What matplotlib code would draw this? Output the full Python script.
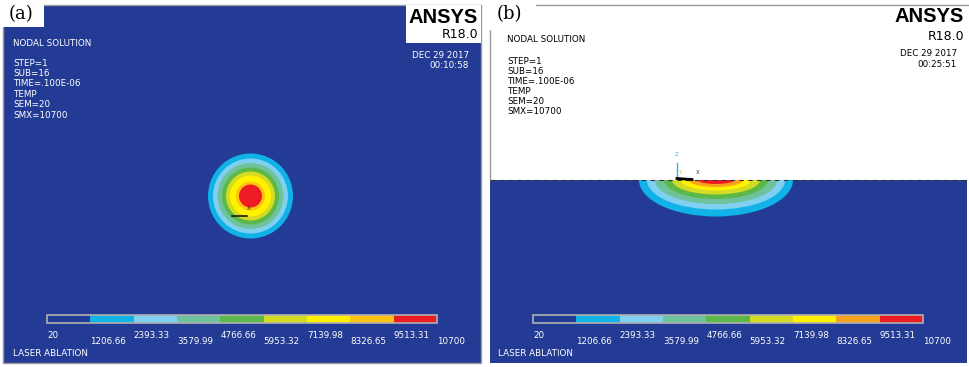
import matplotlib.pyplot as plt
from matplotlib.patches import Rectangle, Circle, Ellipse

# contour levels of the temperature legend
LEVELS = [20, 1206.66, 2393.33, 3579.99, 4766.66, 5953.32, 7139.98, 8326.65, 9513.31, 10700]
LEVEL_LABELS = ["20", "1206.66", "2393.33", "3579.99", "4766.66",
                "5953.32", "7139.98", "8326.65", "9513.31", "10700"]

BAND_COLORS = ["#233b95", "#10b2e8", "#80d0f0", "#6fc39c", "#5cb848",
               "#d3dc22", "#fff100", "#f7a21c", "#ed1c24"]
BAND_COLORS_A = BAND_COLORS[:7] + ["#ffc20e", BAND_COLORS[8]]

# (a) top view: radius (px) of the outer edge of bands 1..8
RADII_A = [42.5, 37.5, 33.0, 28.5, 24.5, 20.5, 14.5, 11.5]
# (b) cross section: half width and depth (px) of bands 1..8
HALF_W_B = [77, 69, 61, 52, 44, 35, 27, 18]
DEPTH_B = [36.5, 29.5, 24, 19, 14.5, 10.5, 7, 4]

INFO = ["STEP=1", "SUB=16", "TIME=.100E-06", "TEMP", "SEM=20", "SMX=10700"]
BLUE = BAND_COLORS[0]
GRAY = "#9a9a9a"
FS = 6.3


def colorbar(ax, x0, width, y0, colors):
    lo, hi = LEVELS[0], LEVELS[-1]
    xs = [x0 + (v - lo) / (hi - lo) * width for v in LEVELS]
    for i in range(9):
        ax.add_patch(Rectangle((xs[i], y0), xs[i + 1] - xs[i], 8, fc=colors[i],
                               ec="none", zorder=3))
    ax.add_patch(Rectangle((x0, y0), width, 8, fill=False, ec="#b0b0b0",
                           lw=1.2, zorder=4))
    for i, (x, s) in enumerate(zip(xs, LEVEL_LABELS)):
        y = y0 + 20 if i % 2 == 0 else y0 + 27
        ax.text(x, y, s, color="white", fontsize=FS, ha="left", va="center", zorder=5)


def header(ax, x_left, y_nodal, y_info, step, x_right, date, time, y_date, color):
    ax.text(x_left, y_nodal, "NODAL SOLUTION", color=color, fontsize=FS,
            va="center", zorder=5)
    for k, s in enumerate(INFO):
        ax.text(x_left, y_info + k * step, s, color=color, fontsize=FS,
                va="center", zorder=5)
    ax.text(x_right, y_date, date, color=color, fontsize=FS, ha="right",
            va="center", zorder=5)
    ax.text(x_right, y_date + 10.5, time, color=color, fontsize=FS, ha="right",
            va="center", zorder=5)


def logo(ax, x_right, y_ansys, y_rel):
    ax.text(x_right, y_ansys, "ANSYS", family=["Liberation Sans", "DejaVu Sans"],
            fontsize=14.5, weight="bold", ha="right", va="center", zorder=5)
    ax.text(x_right, y_rel, "R18.0", fontsize=9, ha="right", va="center", zorder=5)


fig = plt.figure(figsize=(9.69, 3.67), dpi=100)
ax = fig.add_axes([0, 0, 1, 1])
ax.set_xlim(0, 969)
ax.set_ylim(367, 0)
ax.axis("off")

# ---- (a) top view of the spot
ax.add_patch(Rectangle((3, 5), 478, 358, fc=BLUE, ec=GRAY, lw=1, zorder=1))
cx, cy = 250.5, 196
for r, c in zip(RADII_A, BAND_COLORS_A[1:]):
    ax.add_patch(Circle((cx, cy), r, fc=c, ec="none", zorder=2))
ax.plot([232, 247], [216, 216], color="#1a1a1a", lw=1.2, zorder=3)
ax.text(232, 209, "Y", color="#c8d020", fontsize=4, ha="center", va="center", zorder=3)
ax.text(249, 209, "X", color="#303030", fontsize=4, ha="center", va="center", zorder=3)

ax.add_patch(Rectangle((0, 0), 44, 27, fc="white", ec="none", zorder=4))
ax.text(9, 14, "(a)", family="DejaVu Serif", fontsize=13, va="center", zorder=5)
ax.add_patch(Rectangle((406, 5), 75, 38, fc="white", ec="none", zorder=4))
logo(ax, 478, 17.5, 35)
header(ax, 13, 43, 63, 10.4, 469, "DEC 29 2017", "00:10:58", 55, "white")
colorbar(ax, 47, 390, 315, BAND_COLORS_A)
ax.text(13, 354, "LASER ABLATION", color="white", fontsize=FS, va="center", zorder=5)

# ---- (b) cross section below the surface
surf = 180
ax.add_patch(Rectangle((490, surf), 477, 363 - surf, fc=BLUE, ec="none", zorder=1))
ex = 716
for w, d, c in zip(HALF_W_B, DEPTH_B, BAND_COLORS[1:]):
    ax.add_patch(Ellipse((ex, surf), 2 * w, 2 * d, fc=c, ec="none", zorder=2))
ax.add_patch(Rectangle((490, 4), 479, surf - 4, fc="white", ec="none", zorder=3))
ax.plot([490, 969], [4.5, 4.5], color=GRAY, lw=1, zorder=3)
ax.plot([490.5, 490.5], [4, surf], color=GRAY, lw=1, zorder=3)
ax.plot([490, 967], [surf, surf], color="#333333", lw=0.8, ls=(0, (4, 4)), zorder=4)
ax.plot([677, 677], [163, surf], color="#3ab0e0", lw=1, zorder=4)
ax.plot([677, 692], [surf - 1.5, surf - 0.5], color="black", lw=2, zorder=4)
ax.text(677, 155, "Z", color="#3ab0e0", fontsize=4, ha="center", va="center", zorder=4)
ax.text(680, 173, "Y", color="#d0c820", fontsize=4, ha="center", va="center", zorder=4)
ax.text(698, 173, "X", color="#303030", fontsize=4, ha="center", va="center", zorder=4)

ax.add_patch(Rectangle((484, 0), 52, 30, fc="white", ec="none", zorder=4))
ax.text(497, 14, "(b)", family="DejaVu Serif", fontsize=13, va="center", zorder=5)
logo(ax, 964, 16.5, 37)
header(ax, 507, 39, 61, 10, 957, "DEC 29 2017", "00:25:51", 54, "black")
colorbar(ax, 533, 390, 315, BAND_COLORS)
ax.text(498, 354, "LASER ABLATION", color="white", fontsize=FS, va="center", zorder=5)

fig.savefig("out.png", dpi=100)
